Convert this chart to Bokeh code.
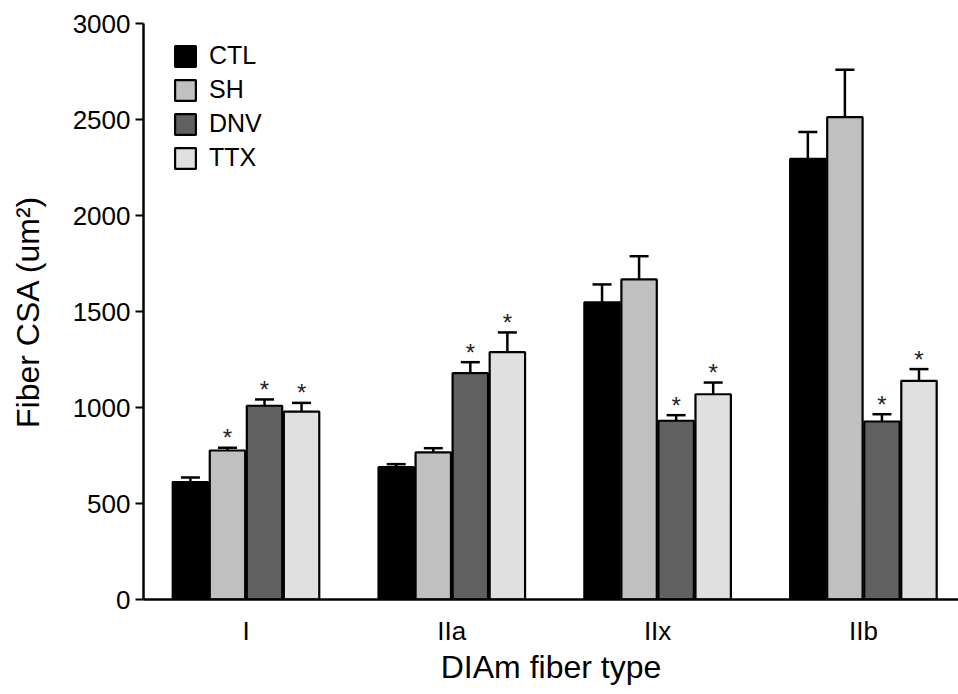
from bokeh.plotting import figure
from bokeh.models import ColumnDataSource, FixedTicker, Whisker, TeeHead, Legend, LegendItem
from bokeh.embed import file_html
from bokeh.resources import INLINE
from bokeh.core.properties import value

categories = ["I", "IIa", "IIx", "IIb"]
groups = ["CTL", "SH", "DNV", "TTX"]
colors = ["#000000", "#c0c0c0", "#606060", "#e0e0e0"]

ctl = [612, 689, 1548, 2295]
ctl_err = [24, 16, 93, 140]
sh = [776, 766, 1667, 2512]
sh_err = [15, 22, 121, 247]
dnv = [1009, 1179, 931, 927]
dnv_err = [33, 57, 29, 38]
ttx = [979, 1288, 1069, 1139]
ttx_err = [45, 103, 61, 61]

ctl_sig = [False, False, False, False]
sh_sig = [True, False, False, False]
dnv_sig = [True, True, True, True]
ttx_sig = [True, True, True, True]

series = [ctl, sh, dnv, ttx]
errors = [ctl_err, sh_err, dnv_err, ttx_err]
sigs = [ctl_sig, sh_sig, dnv_sig, ttx_sig]

FONT = "Liberation Sans"
pitch = 0.18
bar_w = 0.172

p = figure(width=958, height=694, output_backend="svg", toolbar_location=None,
           x_range=(-0.498, 3.462), y_range=(0, 3000),
           min_border_left=143, min_border_right=0, min_border_top=23, min_border_bottom=95)
p.outline_line_color = None
p.xgrid.visible = False
p.ygrid.visible = False

items = []
for i, (g, vals, errs, sg, col) in enumerate(zip(groups, series, errors, sigs, colors)):
    off = (i - 1.5) * pitch
    xs = [k + off for k in range(len(categories))]
    tops = [v + e for v, e in zip(vals, errs)]
    src = ColumnDataSource(dict(x=xs, top=vals, upper=tops))
    w = Whisker(source=src, base="x", lower="top", upper="upper", dimension="height",
                line_color="black", line_width=2.5,
                upper_head=TeeHead(size=19, line_width=2.5, line_color="black"),
                lower_head=None)
    p.add_layout(w)
    r = p.vbar(x="x", top="top", width=bar_w, bottom=0, source=src,
               fill_color=col, line_color="black", line_width=2.2)
    items.append(LegendItem(label=g, renderers=[r]))
    sx = [x for x, s in zip(xs, sg) if s]
    sy = [t for t, s in zip(tops, sg) if s]
    if sx:
        p.text(x=sx, y=sy, text=["*"] * len(sx), text_align="center",
               text_baseline="alphabetic", y_offset=-10,
               text_font=value(FONT), text_font_size="24px", text_color="#222222")

legend = Legend(items=items, location=(29, 427), orientation="vertical",
                glyph_width=26, glyph_height=26, label_height=26,
                label_text_font=FONT, label_text_font_size="25px", label_text_color="black",
                label_standoff=11, spacing=5, padding=0, margin=0,
                border_line_color=None, background_fill_alpha=0)
p.add_layout(legend, "center")

p.xaxis.ticker = FixedTicker(ticks=[0, 1, 2, 3])
p.xaxis.major_label_overrides = {k: c for k, c in enumerate(categories)}
p.xaxis.minor_tick_line_color = None
p.xaxis.major_label_standoff = 10
p.xaxis.axis_label = "DIAm fiber type"
p.xaxis.axis_label_standoff = 0

p.yaxis.ticker = FixedTicker(ticks=[0, 500, 1000, 1500, 2000, 2500, 3000])
p.yaxis.major_tick_out = 8
p.yaxis.major_tick_in = 0
p.yaxis.minor_tick_line_color = None
p.yaxis.major_label_standoff = 5
p.yaxis.axis_label = "Fiber CSA (um\u00b2)"
p.yaxis.axis_label_standoff = 24

for ax in (p.xaxis, p.yaxis):
    ax.axis_line_width = 2.5
    ax.axis_line_color = "black"
    ax.major_tick_line_width = 2
    ax.major_label_text_font = FONT
    ax.major_label_text_font_size = "26px"
    ax.major_label_text_color = "black"
    ax.axis_label_text_font = FONT
    ax.axis_label_text_font_size = "32px"
    ax.axis_label_text_font_style = "normal"
    ax.axis_label_text_color = "black"
p.yaxis.major_tick_line_color = "black"
p.xaxis.major_tick_line_color = None

open("out.html", "w").write(file_html(p, INLINE))
